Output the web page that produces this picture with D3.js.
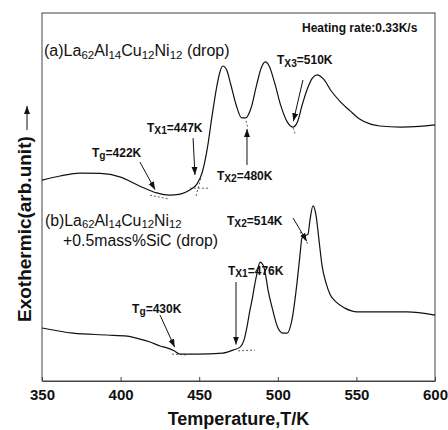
<!DOCTYPE html>
<html>
<head>
<meta charset="utf-8">
<script src="https://cdn.jsdelivr.net/npm/d3@7"></script>
<style>
  body { margin: 0; background: #fff; }
  text { font-family: Arial, "Liberation Sans", sans-serif; fill: #111; }
</style>
</head>
<body>
<svg id="chart"></svg>
<script>
// DSC traces (temperature in K, signal in arbitrary units)
var tempA = [350, 361.5, 374, 387, 400, 412, 423, 431, 438, 444, 448.5, 452, 455.5, 458, 461, 463, 465, 467.5, 470, 473.5, 477, 479.5,
             483, 486.5, 489.5, 492, 494.5, 498, 502, 506, 509.5, 512.5, 515.5, 519, 522, 525, 529, 534, 540, 546, 552, 559, 565, 578, 590, 600];
var sigA = [54.6, 55.7, 56.5, 56.4, 55.4, 53.0, 51.1, 50.5, 50.8, 51.9, 53.5, 56.8, 64.1, 71.5, 79.6, 83.7, 85.6, 84.5, 80.7, 75.0, 71.5, 71.5,
            74.2, 80.4, 85.1, 86.7, 85.6, 81.0, 74.7, 70.4, 69.0, 70.4, 75.0, 79.6, 82.3, 83.2, 82.1, 78.8, 75.8, 73.4, 71.2, 69.8, 69.3, 69.0, 69.2, 69.6];

var tempB = [350, 369.7, 391.3, 404.1, 412.3, 418.7, 425.1, 429.5, 434, 437.8, 448.6, 465.1, 471.5, 476, 478.5, 480.4, 482.3, 483.6, 485.5, 486.8,
             488.7, 490.6, 491.9, 493.8, 496.3, 500.1, 503.3, 505.9, 509, 512.2, 514.1, 515.4, 517.3, 519.2, 520.5, 522.4, 524.3, 526.2, 528.1,
             530.7, 533.2, 537, 542.7, 550.4, 561.2, 582.2, 600];
var sigB = [14.4, 13.0, 12.5, 12.2, 11.4, 10.6, 9.5, 9.0, 8.2, 7.3, 7.3, 7.6, 8.4, 9.2, 11.1, 14.7, 19.3, 22.0, 26.6, 29.3,
            32.3, 31.5, 29.6, 24.7, 20.1, 14.4, 13.0, 13.0, 16.6, 26.6, 34.2, 38.9, 39.4, 39.9, 43.8, 47.6, 45.1, 38.3, 31.5,
            26.6, 23.6, 21.5, 19.8, 18.8, 18.8, 18.8, 17.9];

var xTicks = [350, 400, 450, 500, 550, 600];

// annotations: label parts, label position, arrow from -> to (data units)
var notes = [
  {parts: [["T", 0], ["g", 1], ["=422K", 0]],  at: [381.8, 60.9], from: [412.3, 59.5], to: [421.9, 52.0]},
  {parts: [["T", 0], ["X1", 1], ["=447K", 0]], at: [416.8, 67.7], from: [446.1, 66.0], to: [447.3, 56.0]},
  {parts: [["T", 0], ["X2", 1], ["=480K", 0]], at: [461.3, 54.6], from: [480.4, 58.7], to: [480.4, 68.5]},
  {parts: [["T", 0], ["X3", 1], ["=510K", 0]], at: [499.5, 86.1], from: [516.0, 81.8], to: [509.9, 70.6]},
  {parts: [["T", 0], ["g", 1], ["=430K", 0]],  at: [407.3, 18.5], from: [425.1, 17.9], to: [434.4, 9.2]},
  {parts: [["T", 0], ["X1", 1], ["=476K", 0]], at: [468.3, 28.8], from: [473.4, 26.9], to: [473.4, 9.9]},
  {parts: [["T", 0], ["X2", 1], ["=514K", 0]], at: [467.7, 42.4], from: [509.7, 44.3], to: [518.4, 38.0]}
];

// short dashed tangent construction lines at the onsets
var tangents = [
  [[418.7, 50.5], [430.2, 49.5]],
  [[444.1, 52.4], [456.9, 52.4]],
  [[448.0, 50.3], [451.1, 55.2]],
  [[479.8, 70.7], [481.0, 68.6]],
  [[509.7, 68.8], [511.0, 67.2]],
  [[432.7, 7.3], [441.6, 7.1]],
  [[474.7, 8.2], [485.5, 8.4]],
  [[514.1, 40.5], [519.2, 37.2]]
];

var sampleA = [["(a)La", 0], ["62", 1], ["Al", 0], ["14", 1], ["Cu", 0], ["12", 1], ["Ni", 0], ["12", 1], [" (drop)", 0]];
var sampleB1 = [["(b)La", 0], ["62", 1], ["Al", 0], ["14", 1], ["Cu", 0], ["12", 1], ["Ni", 0], ["12", 1]];
var sampleB2 = [["+0.5mass%SiC (drop)", 0]];

var w = 448, h = 430;
var margin = {top: 13, right: 13, bottom: 49, left: 42};

var x = d3.scaleLinear().domain([350, 600]).range([margin.left, w - margin.right]);
var y = d3.scaleLinear().domain([0, 100]).range([h - margin.bottom, margin.top]);

var svg = d3.select("#chart")
  .attr("width", w)
  .attr("height", h);

svg.append("defs").append("marker")
  .attr("id", "head")
  .attr("markerUnits", "userSpaceOnUse")
  .attr("markerWidth", 10)
  .attr("markerHeight", 8)
  .attr("refX", 8)
  .attr("refY", 3)
  .attr("orient", "auto")
  .append("path")
  .attr("d", "M0,0 L8,3 L0,6 Z")
  .attr("fill", "#111");

// frame
svg.append("rect")
  .attr("x", x(350))
  .attr("y", y(100))
  .attr("width", x(600) - x(350))
  .attr("height", y(0) - y(100))
  .attr("fill", "none")
  .attr("stroke", "#444")
  .attr("stroke-width", 1);

// bottom axis, ticks pointing inward
var xAxis = svg.append("g")
  .attr("transform", "translate(0," + y(0) + ")")
  .call(d3.axisBottom(x).tickValues(xTicks).tickSizeInner(-4).tickSizeOuter(0).tickPadding(8));
xAxis.select(".domain").attr("stroke", "#444");
xAxis.selectAll(".tick line").attr("stroke", "#444");
xAxis.selectAll(".tick text")
  .attr("font-family", "Arial, 'Liberation Sans', sans-serif")
  .attr("font-size", "15px")
  .attr("font-weight", "bold")
  .attr("fill", "#111");

svg.append("text")
  .attr("x", (x(350) + x(600)) / 2)
  .attr("y", 425)
  .attr("text-anchor", "middle")
  .style("font-size", "18px")
  .style("font-weight", "bold")
  .text("Temperature,T/K");

svg.append("text")
  .attr("transform", "translate(31,322) rotate(-90)")
  .style("font-size", "19px")
  .style("font-weight", "bold")
  .text("Exothermic(arb.unit)");

svg.append("line")
  .attr("x1", 27).attr("y1", 130)
  .attr("x2", 27).attr("y2", 106)
  .attr("stroke", "#111")
  .attr("stroke-width", 1)
  .attr("marker-end", "url(#head)");

// traces
var line = d3.line()
  .x(function(d) { return x(d[0]); })
  .y(function(d) { return y(d[1]); })
  .curve(d3.curveMonotoneX);

[[tempA, sigA], [tempB, sigB]].forEach(function(s) {
  svg.append("path")
    .datum(d3.zip(s[0], s[1]))
    .attr("d", line)
    .attr("fill", "none")
    .attr("stroke", "#111")
    .attr("stroke-width", 1.2);
});

tangents.forEach(function(t) {
  svg.append("line")
    .attr("x1", x(t[0][0])).attr("y1", y(t[0][1]))
    .attr("x2", x(t[1][0])).attr("y2", y(t[1][1]))
    .attr("stroke", "#333")
    .attr("stroke-width", 0.8)
    .attr("stroke-dasharray", "2,2");
});

function label(parts, at, size, weight, subScale, drop) {
  var t = svg.append("text")
    .attr("x", x(at[0]))
    .attr("y", y(at[1]))
    .style("font-size", size + "px")
    .style("font-weight", weight);
  var shift = 0;
  parts.forEach(function(p) {
    var target = p[1] ? size * drop : 0;
    t.append("tspan")
      .attr("dy", target - shift)
      .style("font-size", (p[1] ? size * subScale : size) + "px")
      .text(p[0]);
    shift = target;
  });
  return t;
}

label(sampleA, [351.3, 88.3], 16, "normal", 0.72, 0.2);
label(sampleB1, [351.9, 42.1], 15.8, "normal", 0.72, 0.14);
label(sampleB2, [363.4, 36.7], 15.8, "normal", 0.72, 0.14);

svg.append("text")
  .attr("x", x(515.4))
  .attr("y", y(94.8))
  .style("font-size", "12px")
  .style("font-weight", "bold")
  .text("Heating rate:0.33K/s");

notes.forEach(function(n) {
  label(n.parts, n.at, 12, "bold", 0.85, 0.2);
  svg.append("line")
    .attr("x1", x(n.from[0])).attr("y1", y(n.from[1]))
    .attr("x2", x(n.to[0])).attr("y2", y(n.to[1]))
    .attr("stroke", "#111")
    .attr("stroke-width", 1)
    .attr("marker-end", "url(#head)");
});
</script>
</body>
</html>
